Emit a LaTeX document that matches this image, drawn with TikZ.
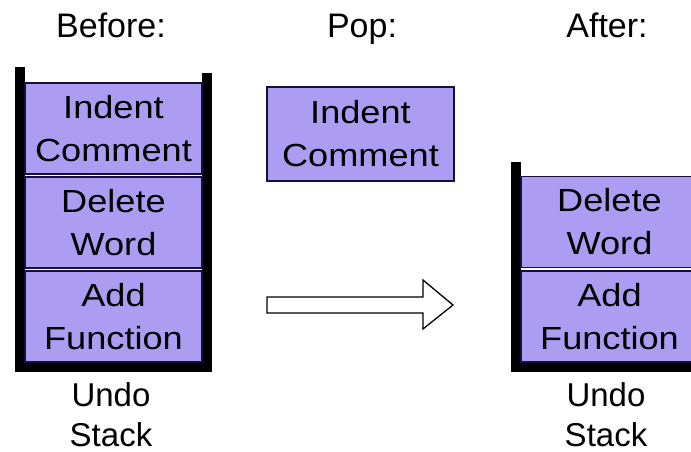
\documentclass[tikz,border=0pt]{standalone}
\usepackage{fontspec}
\setmainfont{Liberation Sans}
\newfontfamily\boxfont[FakeStretch=1.13]{Liberation Sans}
\definecolor{stackpurple}{HTML}{AC9CF2}
\definecolor{edgenavy}{HTML}{14103A}
\tikzset{
  item/.style={draw=edgenavy, line width=1.2pt, fill=stackpurple,
    minimum width=177pt, minimum height=91pt, inner sep=0pt,
    align=center, font=\boxfont\fontsize{32}{43}\selectfont},
  title/.style={anchor=base, inner sep=0pt, font=\fontsize{34}{40}\selectfont},
  caption/.style={anchor=north, inner sep=0pt, align=center,
    font=\fontsize{33}{40}\selectfont},
  wall/.style={fill=black},
  blockarrow/.style={draw=black, line width=1.3pt, fill=white, line join=miter}
}
\begin{document}
\begin{tikzpicture}[x=1pt,y=-1pt]
\useasboundingbox (0,0) rectangle (691,452);
\clip (0,0) rectangle (691,452);
\fill[white] (0,0) rectangle (691,452);

% titles
\node[title] (tb) at (111,38) {Before:};
\node[title] (tp) at (362,38) {Pop:};
\node[title] (ta) at (607,38) {After:};

% left stack walls
\fill[wall] (15,67) rectangle (25,372);
\fill[wall] (202,73) rectangle (212,372);
\fill[wall] (15,362) rectangle (212,372);

\node[item] (l1) at (113.5,128.5) {Indent\\Comment};
\node[item] (l2) at (113.5,222.5) {Delete\\Word};
\node[item] (l3) at (113.5,316.5) {Add\\Function};

\node[caption] (lc) at (111,382) {Undo\\Stack};

% popped item
\node[item, minimum width=187pt, minimum height=94pt] (pop) at (360.5,134) {Indent\\Comment};

% block arrow
\draw[blockarrow] (267,297) -- (423,297) -- (423,280) -- (453,305)
  -- (423,329) -- (423,313) -- (267,313) -- cycle;

% right stack walls
\fill[wall] (511,162) rectangle (521,372);
\fill[wall] (511,362) rectangle (708,372);

\node[item] (r1) at (609.5,222) {Delete\\Word};
\node[item] (r2) at (609.5,316.5) {Add\\Function};

\node[caption] (rc) at (606,382) {Undo\\Stack};
\end{tikzpicture}
\end{document}
